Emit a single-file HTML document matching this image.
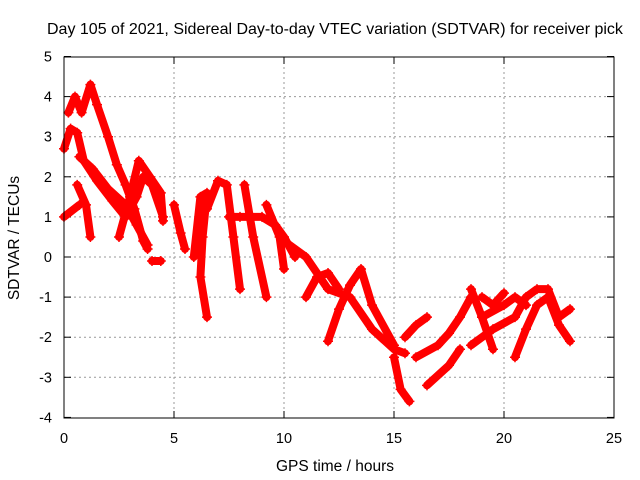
<!DOCTYPE html>
<html><head><meta charset="utf-8"><style>
body{margin:0;background:#fff;overflow:hidden}
svg{display:block;font-family:"Liberation Sans",sans-serif}
</style></head><body>
<svg id="c" width="640" height="480">
<text x="47" y="34" font-size="16" fill="#000">Day 105 of 2021, Sidereal Day-to-day VTEC variation (SDTVAR) for receiver pick</text>
<text x="335" y="471" font-size="15.5" text-anchor="middle">GPS time / hours</text>
<text x="19" y="238" font-size="15.5" text-anchor="middle" transform="rotate(-90 19 238)">SDTVAR / TECUs</text>
<g id="grid"></g><g id="ticks"></g><g id="marks"></g>
<rect x="64" y="57" width="550" height="361" fill="none" stroke="#000" stroke-width="1"/>
</svg>
<script>
const xTicks=[0,5,10,15,20,25];
const yTicks=[-4,-3,-2,-1,0,1,2,3,4,5];
const t1=[[0,2.7],[0.3,3.2],[0.6,3.1],[0.9,2.4],[1.5,1.9],[2.2,1.4],[2.8,1.0],[3.3,1.5],[3.6,2.0],[4.0,1.8],[4.5,1.0]];
const t2=[[0.2,3.6],[0.5,4.0],[0.8,3.6],[1.2,4.3],[1.5,3.8],[2.0,3.0],[2.4,2.3],[2.8,1.8],[3.2,1.2],[3.6,0.4],[3.8,0.2]];
const t3=[[0,1.0],[0.7,1.3]];
const t4=[[0.7,2.5],[1.3,2.2],[2.0,1.7],[2.8,1.3],[3.3,0.8],[3.8,0.3]];
const t5=[[0.6,1.8],[1.0,1.3],[1.2,0.5]];
const t6=[[2.5,0.5],[3.0,1.5],[3.4,2.4],[3.9,2.0],[4.4,1.6],[4.5,0.9]];
const t7=[[4.0,-0.1],[4.4,-0.1]];
const t8=[[5.0,1.3],[5.3,0.6],[5.5,0.2]];
const t9=[[5.9,0.0],[6.2,1.5],[6.5,1.6],[6.3,0.5],[6.2,-0.5],[6.5,-1.5]];
const t10=[[6.5,1.2],[7.0,1.9],[7.4,1.8],[7.7,0.5],[8.0,-0.8]];
const t11=[[7.5,1.0],[8.0,1.0],[9.0,1.0],[9.6,0.8],[10.0,0.5],[10.5,0.0]];
const t12=[[8.2,1.8],[8.6,0.5],[9.2,-1.0]];
const t13=[[9.2,1.3],[9.8,0.5],[10.0,-0.3]];
const t14=[[10.0,0.4],[11.0,0.0],[12.0,-0.8],[13.0,-1.0],[14.0,-1.8],[15.0,-2.3],[15.5,-2.4]];
const t15=[[12.0,-2.1],[12.5,-1.3],[13.0,-0.7],[13.5,-0.3],[14.0,-1.2],[15.0,-2.2]];
const t16=[[11.0,-1.0],[11.5,-0.5],[12.0,-0.4],[12.5,-0.8]];
const t17=[[15.0,-2.5],[15.3,-3.3],[15.7,-3.6]];
const t18=[[15.5,-2.0],[16.0,-1.7],[16.5,-1.5]];
const t19=[[16.0,-2.5],[17.0,-2.2],[17.5,-1.9],[18.0,-1.5],[18.5,-1.0]];
const t20=[[16.5,-3.2],[17.5,-2.7],[18.0,-2.3]];
const t21=[[18.5,-0.8],[19.0,-1.5],[19.5,-2.3]];
const t22=[[18.5,-2.2],[19.5,-1.8],[20.5,-1.5],[21.0,-1.0],[21.5,-0.8],[22.0,-0.8],[22.5,-1.5],[23.0,-1.3]];
const t23=[[19.0,-1.5],[20.0,-1.2],[20.5,-1.0],[21.0,-1.2]];
const t24=[[20.5,-2.5],[21.0,-1.8],[21.5,-1.2],[22.0,-1.0],[22.5,-1.7],[23.0,-2.1]];
const t25=[[19.0,-1.0],[19.5,-1.2],[20.0,-0.9]];
const tracks=[t1,t2,t3,t4,t5,t6,t7,t8,t9,t10,t11,t12,t13,t14,t15,t16,t17,t18,t19,t20,t21,t22,t23,t24,t25];
const NS="http://www.w3.org/2000/svg";
const X=v=>64+v*22, Y=v=>257-v*40.1;
const grid=document.getElementById('grid'),ticks=document.getElementById('ticks'),marks=document.getElementById('marks');
function mk(t,p,a){const e=document.createElementNS(NS,t);for(const k in a)e.setAttribute(k,a[k]);p.appendChild(e);return e;}
xTicks.forEach(v=>{
 if(v>0&&v<25){const g=mk('line',grid,{x1:X(v),x2:X(v),y1:57,y2:418,stroke:'#999','stroke-dasharray':'2,3'});
 
 }
 mk('line',ticks,{x1:X(v),x2:X(v),y1:418,y2:411,stroke:'#000'});
 mk('line',ticks,{x1:X(v),x2:X(v),y1:57,y2:64,stroke:'#000'});
 const t=mk('text',ticks,{x:X(v),y:443,'font-size':14.5,'text-anchor':'middle'});t.textContent=v;
 
 
});
yTicks.forEach(v=>{
 if(v>-4&&v<5){const g=mk('line',grid,{x1:64,x2:614,y1:Y(v),y2:Y(v),stroke:'#999','stroke-dasharray':'2,3'});
 
 }
 mk('line',ticks,{x1:64,x2:71,y1:Y(v),y2:Y(v),stroke:'#000'});
 mk('line',ticks,{x1:614,x2:607,y1:Y(v),y2:Y(v),stroke:'#000'});
 const t=mk('text',ticks,{x:52,y:Y(v)+5,'font-size':14.5,'text-anchor':'end'});t.textContent=v;
 
 
});
tracks.forEach(tr=>{
 const pl=mk('polyline',marks,{points:tr.map(p=>X(p[0])+','+Y(p[1])).join(' '),fill:'none',stroke:'#f00','stroke-width':8,'stroke-linejoin':'round','stroke-linecap':'round'});
 
 
 tr.forEach(p=>{
  const m=mk('path',marks,{d:`M${X(p[0])-5},${Y(p[1])}h10M${X(p[0])},${Y(p[1])-5}v10`,stroke:'#f00','stroke-width':1.5});
  
  
 });
});
</script>
</body></html>
